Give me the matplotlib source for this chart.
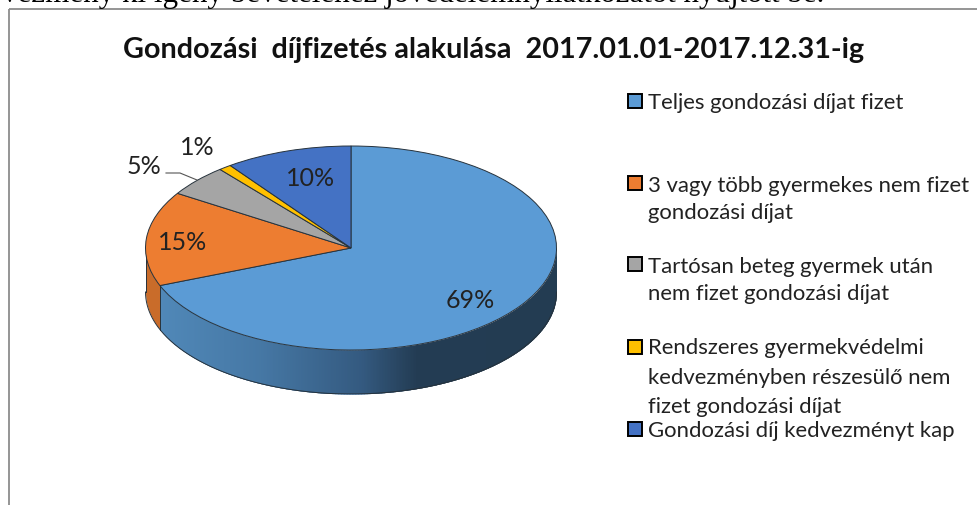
import numpy as np
import matplotlib
matplotlib.use("Agg")
import matplotlib.pyplot as plt
from matplotlib.patches import Rectangle

W, H = 978, 506
title = "Gondozási  díjfizetés alakulása  2017.01.01-2017.12.31-ig"
top_text = "vezmény ki igény bevételéhez jövedelemnyilatkozatot nyújtott be."
categories = ["Teljes gondozási díjat fizet",
              "3 vagy több gyermekes nem fizet\ngondozási díjat",
              "Tartósan beteg gyermek után\nnem fizet gondozási díjat",
              "Rendszeres gyermekvédelmi\nkedvezményben részesülő nem\nfizet gondozási díjat",
              "Gondozási díj kedvezményt kap"]
values = [69, 15, 5, 1, 10]
colors = ["#5B9BD5", "#ED7D31", "#A5A5A5", "#FFC000", "#4472C4"]

FONT = "Lato"
fig = plt.figure(figsize=(W / 100, H / 100), dpi=100, facecolor="white")

# overlay in pixel coordinates for page furniture and text
ov = fig.add_axes([0, 0, 1, 1], zorder=3)
ov.set_xlim(0, W); ov.set_ylim(H, 0); ov.axis("off")

# pie axes
cx, cy, rx, ry, depth = 351, 249, 205.5, 102, 44
ax = fig.add_axes([(cx - rx) / W, 1 - (cy + ry + depth) / H, 2 * rx / W, (2 * ry + depth) / H], zorder=2)
edge = "#26323c"
wedges, _ = ax.pie(values, colors=colors, startangle=90, counterclock=False, radius=1,
                   wedgeprops=dict(edgecolor=edge, linewidth=0.7, zorder=3))
ax.set_aspect("auto")
d = depth / ry
ax.set_xlim(-1, 1); ax.set_ylim(-1 - d, 1)
ax.set_frame_on(False)

# side wall of the front-facing slices, derived from the slice angles
fr = np.cumsum([0] + values) / sum(values)
a0 = np.pi / 2 - 2 * np.pi * fr[1]           # end of the blue slice, on the left
xs = np.linspace(np.cos(a0), 1, 260)
stops_x = [np.cos(a0), -0.45, 0.05, 0.32, 1]
stops_c = np.array([[80, 136, 184], [70, 120, 165], [52, 90, 128], [35, 60, 83], [35, 60, 82]]) / 255
for x0, x1 in zip(xs[:-1], xs[1:]):
    seg = np.linspace(x0, min(x1 + 0.012, 1), 4)
    top = -np.sqrt(np.clip(1 - seg**2, 0, 1))
    c = [np.interp((x0 + x1) / 2, stops_x, stops_c[:, i]) for i in range(3)]
    ax.fill_between(seg, top - d, top, color=c, lw=0, zorder=1)
xo = np.cos(np.linspace(np.pi, np.pi * 2 - (a0 + 2 * np.pi - np.pi * 2 + np.pi * 2 - np.pi * 2 + 0) % (2 * np.pi), 60))
xo = np.clip(xo, -1, np.cos(a0))
xo = np.sort(xo)
to = -np.sqrt(np.clip(1 - xo**2, 0, 1))
ax.fill_between(xo, to - d, to, color="#C96C2A", lw=0, zorder=1)
th = np.linspace(np.pi, 2 * np.pi, 400)
ax.plot(np.cos(th), np.sin(th) - d, color=edge, lw=0.7, zorder=2)
ax.plot([-1, -1], [0, -d], color=edge, lw=0.7, zorder=2)
ax.plot([1, 1], [0, -d], color=edge, lw=0.7, zorder=2)
ax.plot([np.cos(a0)] * 2, [np.sin(a0), np.sin(a0) - d], color=edge, lw=0.7, zorder=2)

# page furniture
ov.plot([8.5, 8.5], [9.5, H], color="#8c8c8c", lw=1.3, solid_capstyle="butt")
ov.plot([8.5, W], [9.5, 9.5], color="#8c8c8c", lw=1.3, solid_capstyle="butt")
ov.text(2, 2, top_text, family="Liberation Serif", fontsize=22.3, color="black", va="baseline", clip_on=True)
ov.text(123, 58, title, family=FONT, fontsize=20.7, fontweight="bold", color="#111111", va="baseline")

# data labels
pct_labels = [f"{v}%" for v in values]
pct_pos = [(470, 301), (183, 243), (144, 166), (197, 147), (311, 178)]
for s, (x, y) in zip(pct_labels, pct_pos):
    ov.text(x, y, s, family=FONT, fontsize=18, color="#222222", ha="center", va="center")
ov.plot([166, 180, 197], [174, 174, 181], color="#555555", lw=0.8)

# legend
mark_y = [102, 184, 265, 348, 430]
base_y = [[109], [192, 219], [273, 300], [354, 384, 413], [437]]
for name, col, my, bys in zip(categories, colors, mark_y, base_y):
    ov.add_patch(Rectangle((628, my - 7), 14, 14, facecolor=col, edgecolor="black", lw=1.4))
    for line, by in zip(name.split("\n"), bys):
        ov.text(648, by, line, family=FONT, fontsize=15.9, color="#222222", va="baseline")

fig.savefig("out.png", dpi=100, facecolor="white")
